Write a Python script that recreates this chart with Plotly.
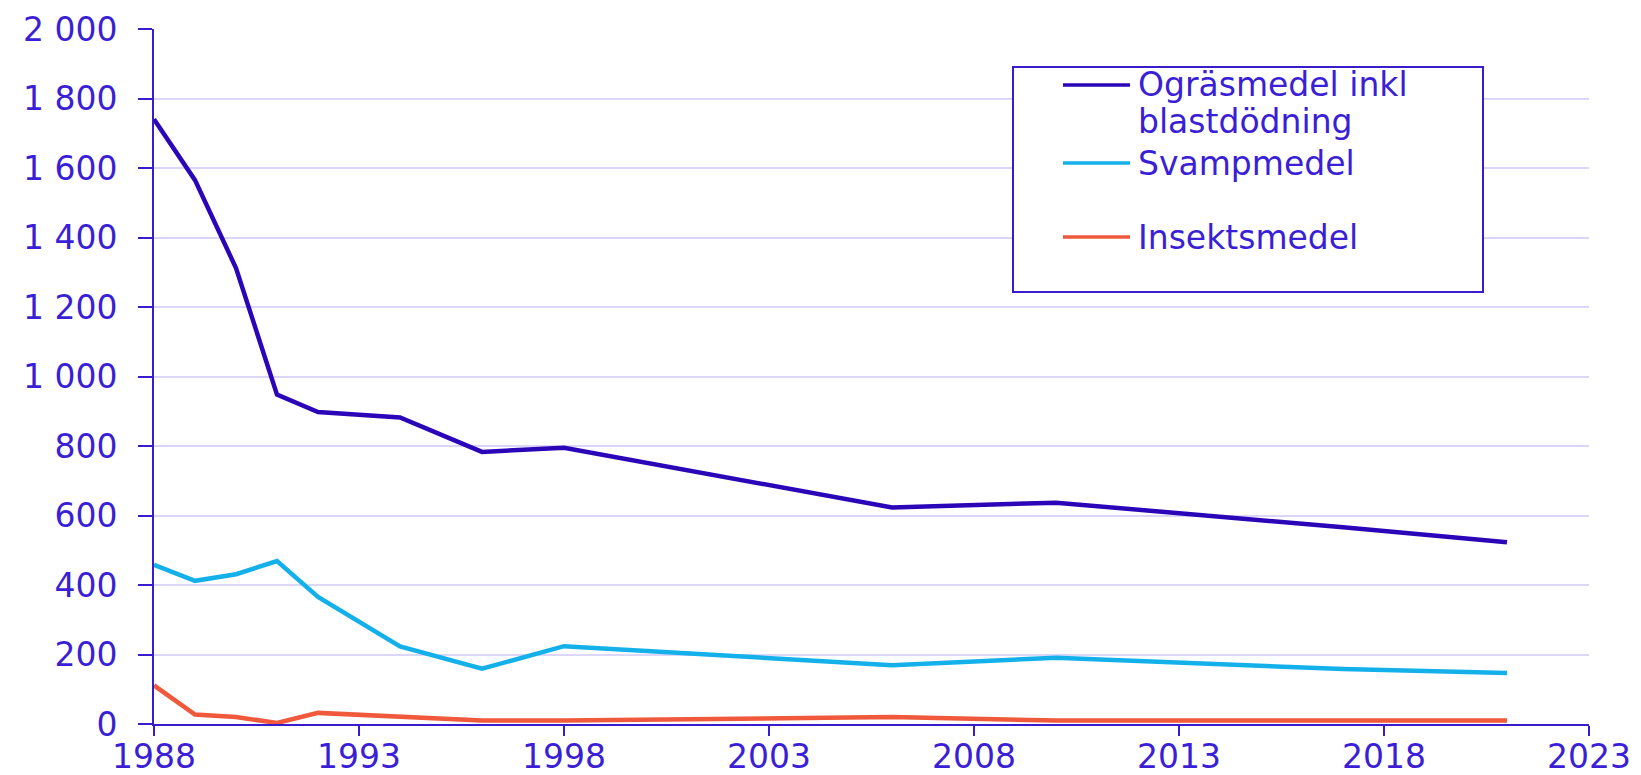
import plotly.graph_objects as go

# ---- data ----
years = [1988, 1989, 1990, 1991, 1992, 1994, 1996, 1998, 2006, 2010, 2017, 2021]
ograsmedel = [1740, 1565, 1312, 948, 898, 882, 783, 795, 623, 637, 566, 523]
svampmedel = [458, 412, 431, 469, 366, 223, 159, 224, 169, 191, 158, 147]
insektsmedel = [111, 27, 20, 3, 32, 22, 10, 10, 20, 10, 10, 10]

series_names = ["Ogräsmedel inkl<br>blastdödning", "Svampmedel", "Insektsmedel"]
series_values = [ograsmedel, svampmedel, insektsmedel]
series_colors = ["#2a06b8", "#14b0ea", "#f0593b"]

x_ticks = [1988, 1993, 1998, 2003, 2008, 2013, 2018, 2023]
y_ticks = [0, 200, 400, 600, 800, 1000, 1200, 1400, 1600, 1800, 2000]

TEXT = "#3a1fd6"
AXIS = "#3a1ccf"
GRID = "#dcd6fb"
FONT = "DejaVu Sans"
TICK_SIZE = 33
LEG_SIZE = 33

fig = go.Figure()
for name, vals, col in zip(series_names, series_values, series_colors):
    fig.add_trace(go.Scatter(x=years, y=vals, mode="lines", name=name.replace("<br>", " "),
                             line=dict(color=col, width=4.5), showlegend=False))

# ---- page geometry (px, in window coordinates; body has an 8px margin) ----
OFF = 8
W, H = 1641 - OFF, 775 - OFF
PL, PR, PT, PB = 154, 1589, 29, 724          # plot area in window px
L, T = PL - OFF, PT - OFF
R, B = W - (PR - OFF), H - (PB - OFF)
pw, ph = PR - PL, PB - PT

def px(x):
    return (x - PL) / pw

def py(y):
    return (PB - y) / ph

# legend box
fig.add_shape(type="rect", xref="paper", yref="paper",
              x0=px(1013), x1=px(1483), y0=py(292), y1=py(67),
              line=dict(color=AXIS, width=2), fillcolor="white", layer="above")

leg_y = [85, 163, 237]
LINE_GAP = 36
for name, col, ly in zip(series_names, series_colors, leg_y):
    fig.add_shape(type="line", xref="paper", yref="paper",
                  x0=px(1063), x1=px(1130), y0=py(ly), y1=py(ly),
                  line=dict(color=col, width=3.5), layer="above")
    for i, part in enumerate(name.split("<br>")):
        fig.add_annotation(xref="paper", yref="paper", x=px(1136), y=py(ly + i * LINE_GAP),
                           xanchor="left", yanchor="middle", text=part, showarrow=False,
                           align="left", font=dict(family=FONT, size=LEG_SIZE, color=TEXT))

fig.update_layout(
    width=W, height=H,
    margin=dict(l=L, r=R, t=T, b=B, autoexpand=False),
    paper_bgcolor="white", plot_bgcolor="white",
    separators=", ",
    font=dict(family=FONT, size=TICK_SIZE, color=TEXT),
    showlegend=False,
)
fig.update_xaxes(range=[1988, 2023], tickvals=x_ticks, ticktext=[str(v) for v in x_ticks],
                 showgrid=False, zeroline=False,
                 showline=True, linecolor=AXIS, linewidth=2,
                 ticks="outside", ticklen=10, tickwidth=2, tickcolor=AXIS,
                 ticklabelstandoff=-8,
                 tickfont=dict(family=FONT, size=TICK_SIZE, color=TEXT))
fig.update_yaxes(range=[0, 2000], tickvals=y_ticks, tickformat=",d",
                 showgrid=True, gridcolor=GRID, gridwidth=1.5, zeroline=False,
                 showline=True, linecolor=AXIS, linewidth=2,
                 ticks="outside", ticklen=14, tickwidth=2, tickcolor=AXIS,
                 ticklabelstandoff=14,
                 tickfont=dict(family=FONT, size=TICK_SIZE, color=TEXT))

fig.write_html("out.html")
